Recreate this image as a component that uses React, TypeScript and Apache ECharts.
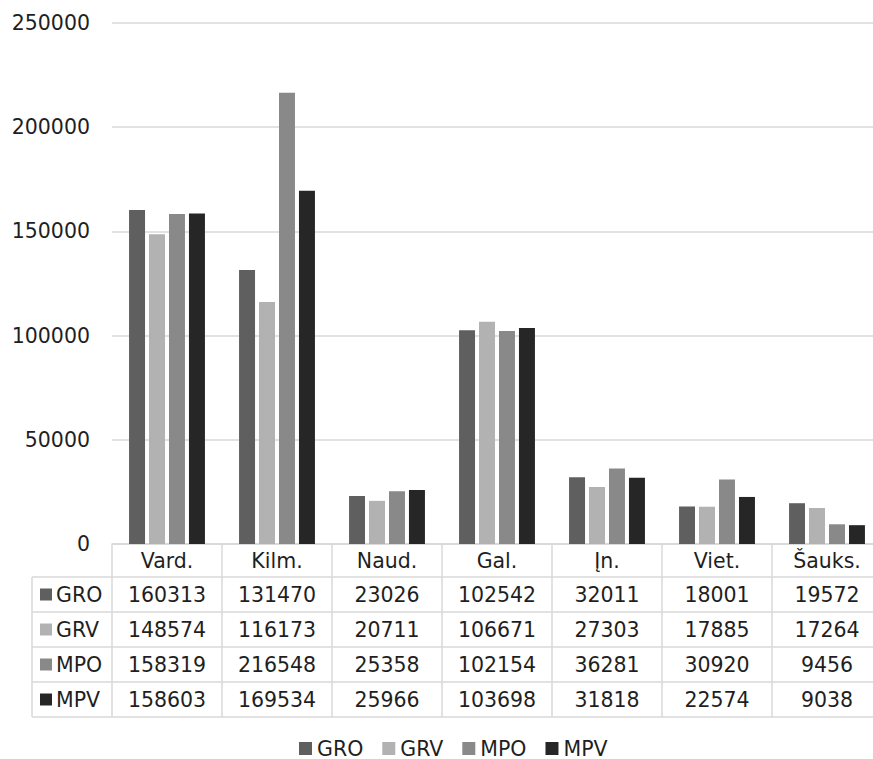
import React, { useEffect, useRef } from "react";
import * as echarts from "echarts";

const categories = ["Vard.", "Kilm.", "Naud.", "Gal.", "Įn.", "Viet.", "Šauks."];
const seriesNames = ["GRO", "GRV", "MPO", "MPV"];
const groValues = [160313, 131470, 23026, 102542, 32011, 18001, 19572];
const grvValues = [148574, 116173, 20711, 106671, 27303, 17885, 17264];
const mpoValues = [158319, 216548, 25358, 102154, 36281, 30920, 9456];
const mpvValues = [158603, 169534, 25966, 103698, 31818, 22574, 9038];
const seriesColors = ["#5f5f5f", "#b2b2b2", "#898989", "#262626"];
const yTicks = { min: 0, max: 250000, interval: 50000 };

const FONT = "'DejaVu Sans', Verdana, sans-serif";
const TEXT = "#1f1f1f";
const LINE = "#d9d9d9";

export default function App() {
  const ref = useRef<HTMLDivElement>(null);
  useEffect(() => {
    if (!ref.current) return;
    const chart = echarts.init(ref.current, null, { renderer: "svg" });
    const allValues = [groValues, grvValues, mpoValues, mpvValues];
    const gridLeft = 112;
    const gridTop = 23;
    const gridBottom = 215;
    chart.setOption({
      animation: false,
      textStyle: { fontFamily: FONT },
      grid: { left: gridLeft, right: 0, top: gridTop, bottom: gridBottom, containLabel: false },
      legend: {
        data: seriesNames,
        left: 299,
        top: 738,
        padding: 0,
        icon: "rect",
        itemWidth: 13,
        itemHeight: 13,
        itemGap: 19,
        textStyle: { fontSize: 20.5, color: TEXT, fontFamily: FONT },
      },
      xAxis: {
        type: "category",
        data: categories,
        axisLabel: { show: false },
        axisTick: { show: false },
        axisLine: { show: true, lineStyle: { color: LINE, width: 1.5 } },
      },
      yAxis: {
        type: "value",
        min: yTicks.min,
        max: yTicks.max,
        interval: yTicks.interval,
        axisLine: { show: false },
        axisTick: { show: false },
        axisLabel: {
          fontSize: 20.5,
          color: TEXT,
          margin: 22,
          fontFamily: FONT,
          formatter: (v: number) => String(v),
        },
        splitLine: { lineStyle: { color: LINE, width: 1.5 } },
      },
      series: seriesNames.map((name, i) => ({
        name,
        type: "bar",
        data: allValues[i],
        barGap: "25%",
        barCategoryGap: "31%",
        itemStyle: { color: seriesColors[i] },
      })),
    });

    // Build the data table under the plot from the axis geometry
    const zeroY = chart.convertToPixel({ yAxisIndex: 0 }, 0) as number;
    const c0 = chart.convertToPixel({ xAxisIndex: 0 }, categories[0]) as number;
    const c1 = chart.convertToPixel({ xAxisIndex: 0 }, categories[1]) as number;
    const colW = c1 - c0;
    const tableLeft = 32;
    const plotLeft = c0 - colW / 2;
    const plotRight = plotLeft + colW * categories.length;
    const headerBottom = zeroY + 33;
    const rowH = 35;
    const tableBottom = headerBottom + rowH * seriesNames.length;
    const ls = { stroke: LINE, lineWidth: 1.5 };
    const els: any[] = [];
    els.push({ type: "line", shape: { x1: plotLeft, y1: zeroY, x2: plotRight, y2: zeroY }, style: ls, silent: true });
    for (let r = 0; r <= seriesNames.length; r++) {
      const y = headerBottom + r * rowH;
      els.push({ type: "line", shape: { x1: tableLeft, y1: y, x2: plotRight, y2: y }, style: ls, silent: true });
    }
    els.push({ type: "line", shape: { x1: tableLeft, y1: headerBottom, x2: tableLeft, y2: tableBottom }, style: ls, silent: true });
    for (let c = 0; c <= categories.length; c++) {
      const x = plotLeft + c * colW;
      els.push({ type: "line", shape: { x1: x, y1: zeroY, x2: x, y2: tableBottom }, style: ls, silent: true });
    }
    const font = `20.5px ${FONT}`;
    categories.forEach((cat, c) => {
      const cx = chart.convertToPixel({ xAxisIndex: 0 }, cat) as number;
      els.push({
        type: "text",
        x: cx,
        y: (zeroY + headerBottom) / 2,
        style: { text: cat, font, fill: TEXT, align: "center", verticalAlign: "middle" },
        silent: true,
      });
      allValues.forEach((vals, r) => {
        els.push({
          type: "text",
          x: cx,
          y: headerBottom + r * rowH + rowH / 2,
          style: { text: String(vals[c]), font, fill: TEXT, align: "center", verticalAlign: "middle" },
          silent: true,
        });
      });
    });
    seriesNames.forEach((name, r) => {
      const cy = headerBottom + r * rowH + rowH / 2;
      els.push({ type: "rect", shape: { x: 40, y: cy - 6, width: 12, height: 12 }, style: { fill: seriesColors[r] }, silent: true });
      els.push({
        type: "text",
        x: 56,
        y: cy,
        style: { text: name, font, fill: TEXT, align: "left", verticalAlign: "middle" },
        silent: true,
      });
    });
    chart.setOption({ graphic: { elements: els } });

    return () => chart.dispose();
  }, []);
  return (
    <div style={{ position: "absolute", left: 0, top: 0, width: 873, height: 759, overflow: "hidden", background: "#fff" }}>
      <div ref={ref} style={{ width: 882, height: 759 }} />
    </div>
  );
}
